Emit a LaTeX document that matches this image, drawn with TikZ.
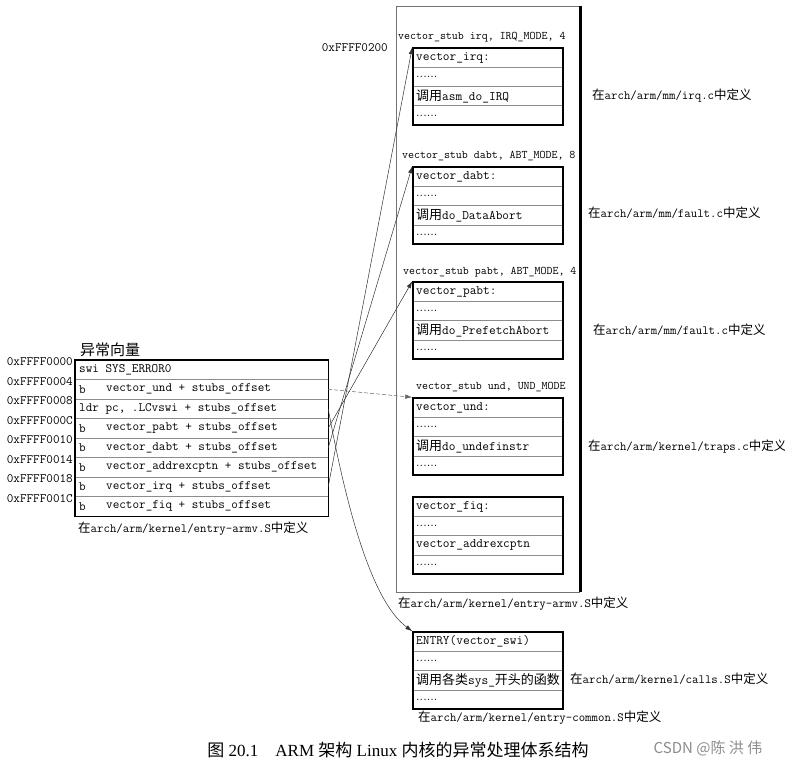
\documentclass[tikz,border=0pt]{standalone}
\usepackage{fontspec}
\newfontfamily\cjk{Noto Sans CJK SC}
\newfontfamily\capserif{Liberation Serif}
\usetikzlibrary{arrows.meta}
\newcommand\zh[1]{{\cjk #1}}
\newcommand\dotrow{{\rmfamily ......}}
\newcommand\stubbox[6]{%
  \node[ibox] (#1) at (488,#2+38.5) {};
  \draw[sep] (413.8,#2+19.25) -- (562.2,#2+19.25);
  \draw[sep] (413.8,#2+38.5) -- (562.2,#2+38.5);
  \draw[sep] (413.8,#2+57.75) -- (562.2,#2+57.75);
  \node[codeB] (#1t1) at (416,#2+9.6) {#3};
  \node[codeB] (#1t2) at (416,#2+28.9) {#4};
  \node[codeB] (#1t3) at (416,#2+48.1) {#5};
  \node[codeB] (#1t4) at (416,#2+67.4) {#6};
}
\begin{document}
\begin{tikzpicture}[x=1pt,y=-1pt,
  sep/.style={draw=black!45, line width=0.5pt},
  ibox/.style={draw, line width=1.5pt, minimum width=150pt, minimum height=77pt, inner sep=0pt},
  codeA/.style={font=\ttfamily\fontsize{12.8}{14}\selectfont, inner sep=0pt, anchor=west},
  codeB/.style={font=\ttfamily\fontsize{13}{14}\selectfont, inner sep=0pt, anchor=west},
  stublbl/.style={font=\ttfamily\fontsize{11.6}{14}\selectfont, inner sep=0pt, anchor=west},
  addr/.style={font=\ttfamily\fontsize{12.8}{14}\selectfont, inner sep=0pt, anchor=east},
  note/.style={font=\ttfamily\fontsize{12.5}{14}\selectfont, inner sep=0pt, anchor=west},
  conn/.style={line width=0.5pt, draw=black!80, -{Latex[length=7pt,width=4.5pt]}}]
\useasboundingbox (0,0) rectangle (785,765);
\fill[white] (0,0) rectangle (785,765);

% big stub area
\node[minimum width=184pt, minimum height=586pt, inner sep=0pt, anchor=north west] (area) at (396,6) {};
\draw[black!55, line width=0.6pt] (area.north east) -- (area.north west) -- (area.south west) -- (area.south east);
\draw[line width=2.2pt] (area.north east) -- (area.south east);

% stub labels
\node[addr] (a200) at (388,48) {0xFFFF0200};
\node[stublbl] (sirq) at (398,37) {vector\_stub irq, IRQ\_MODE, 4};
\node[stublbl] (sdabt) at (402,156) {vector\_stub dabt, ABT\_MODE, 8};
\node[stublbl] (spabt) at (403,272) {vector\_stub pabt, ABT\_MODE, 4};
\node[stublbl] (sund) at (416,387) {vector\_stub und, UND\_MODE};

% inner boxes
\stubbox{irq}{48}{vector\_irq:}{\dotrow}{\zh{调用}asm\_do\_IRQ}{\dotrow}
\stubbox{dabt}{167}{vector\_dabt:}{\dotrow}{\zh{调用}do\_DataAbort}{\dotrow}
\stubbox{pabt}{282}{vector\_pabt:}{\dotrow}{\zh{调用}do\_PrefetchAbort}{\dotrow}
\stubbox{und}{398}{vector\_und:}{\dotrow}{\zh{调用}do\_undefinstr}{\dotrow}
\stubbox{fiq}{497}{vector\_fiq:}{\dotrow}{vector\_addrexcptn}{\dotrow}
\stubbox{swi}{632}{ENTRY(vector\_swi)}{\dotrow}{\zh{调用各类}sys\_\zh{开头的函数}}{\dotrow}

% side notes
\node[note] (lirq) at (592,96) {\zh{在}arch/arm/mm/irq.c\zh{中定义}};
\node[note] (ldabt) at (588,213) {\zh{在}arch/arm/mm/fault.c\zh{中定义}};
\node[note] (lpabt) at (593,330) {\zh{在}arch/arm/mm/fault.c\zh{中定义}};
\node[note] (lund) at (588,447) {\zh{在}arch/arm/kernel/traps.c\zh{中定义}};
\node[note] (fb) at (398,604) {\zh{在}arch/arm/kernel/entry-armv.S\zh{中定义}};
\node[note] (lcalls) at (570,679) {\zh{在}arch/arm/kernel/calls.S\zh{中定义}};
\node[note] (fc) at (418,718) {\zh{在}arch/arm/kernel/entry-common.S\zh{中定义}};

% vector table
\node[font=\cjk\fontsize{15}{18}\selectfont, anchor=west, inner sep=0pt] (hdr) at (80,350) {异常向量};
\foreach \i in {1,...,8}{
  \node[minimum width=253pt, minimum height=19.5pt, inner sep=0pt] (r\i) at (201.5,350.25+19.5*\i) {};
}
\foreach \i in {1,...,7}{ \draw[sep] (r\i.south west) -- (r\i.south east); }
\draw[line width=1.4pt] (r1.north west) rectangle (r8.south east);

\node[codeA] (t1) at (79,369.75) {swi SYS\_ERROR0};
\node[codeA] (t2b) at (79,389.25) {b};
\node[codeA] (t2) at (106,389.25) {vector\_und + stubs\_offset};
\node[codeA] (t3) at (79,408.75) {ldr pc, .LCvswi + stubs\_offset};
\node[codeA] (t4b) at (79,428.25) {b};
\node[codeA] (t4) at (106,428.25) {vector\_pabt + stubs\_offset};
\node[codeA] (t5b) at (79,447.75) {b};
\node[codeA] (t5) at (106,447.75) {vector\_dabt + stubs\_offset};
\node[codeA] (t6b) at (79,467.25) {b};
\node[codeA] (t6) at (106,467.25) {vector\_addrexcptn + stubs\_offset};
\node[codeA] (t7b) at (79,486.75) {b};
\node[codeA] (t7) at (106,486.75) {vector\_irq + stubs\_offset};
\node[codeA] (t8b) at (79,506.25) {b};
\node[codeA] (t8) at (106,506.25) {vector\_fiq + stubs\_offset};

\node[addr] (a0) at (73,362) {0xFFFF0000};
\node[addr] (a4) at (73,381.5) {0xFFFF0004};
\node[addr] (a8) at (73,401) {0xFFFF0008};
\node[addr] (aC) at (73,420.5) {0xFFFF000C};
\node[addr] (a10) at (73,440) {0xFFFF0010};
\node[addr] (a14) at (73,459.5) {0xFFFF0014};
\node[addr] (a18) at (73,479) {0xFFFF0018};
\node[addr] (a1C) at (73,498.5) {0xFFFF001C};

\node[note] (fa) at (78,529) {\zh{在}arch/arm/kernel/entry-armv.S\zh{中定义}};

% connectors
\draw[conn, dash pattern=on 4pt off 2pt, draw=black!60] (r2.east) -- (und.north west);
\draw[conn] (r4.east) -- (pabt.north west);
\draw[conn] (r5.east) -- (dabt.north west);
\draw[conn] (r7.east) -- (irq.north west);
\draw[conn] (r3.east) .. controls (345,500) and (370,600) .. (swi.north west);

% caption
\node[font=\capserif\fontsize{17}{20}\selectfont, inner sep=0pt] (cap) at (398,750) {\zh{图} 20.1\quad ARM \zh{架构} Linux \zh{内核的异常处理体系结构}};
\node[font=\cjk\fontsize{15}{18}\selectfont, text=black!45, inner sep=0pt] (wm) at (708,748) {CSDN @陈 洪 伟};
\end{tikzpicture}
\end{document}
